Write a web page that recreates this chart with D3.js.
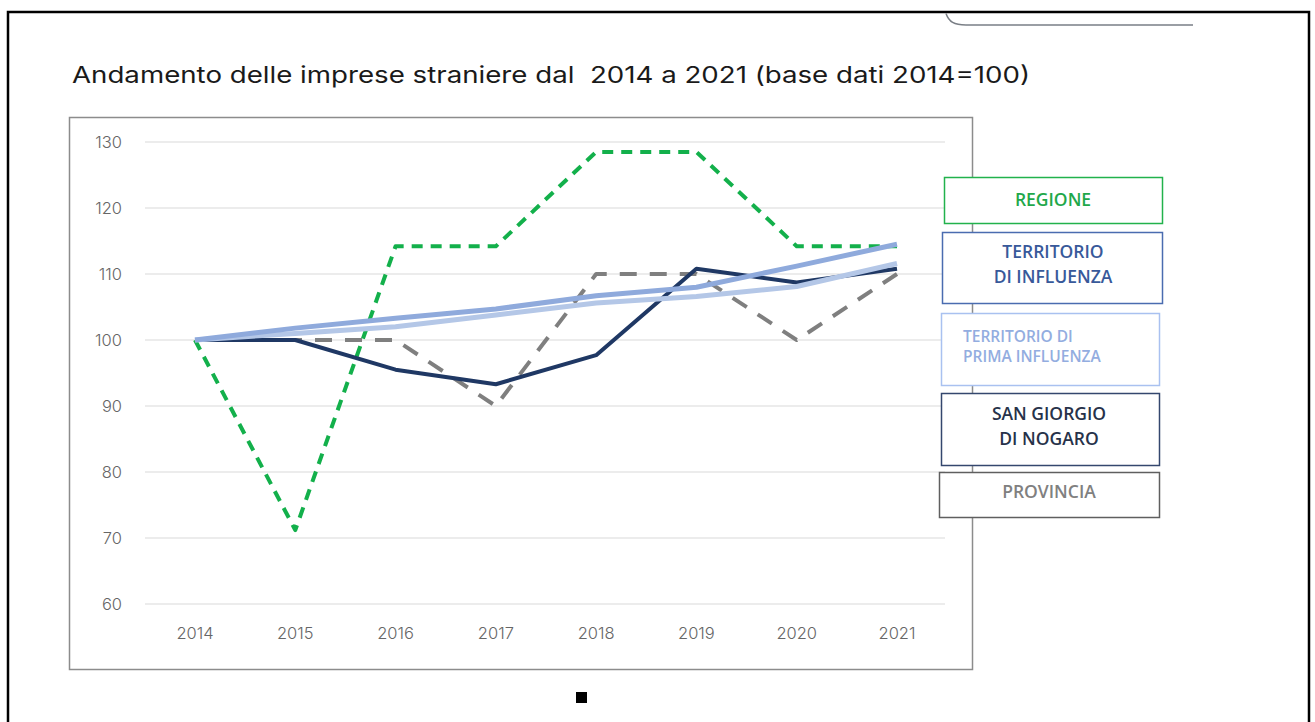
<!DOCTYPE html>
<meta charset="utf-8">
<title>Andamento delle imprese straniere</title>
<style>

body {
  margin: 0;
  background-color: white;
}

text {
  font-family: Inter, "Liberation Sans", sans-serif;
}

.grid line {
  stroke: #d9d9d9;
  stroke-width: 1.2px;
}

.tick-label {
  fill: #666;
  font-size: 16.5px;
  font-weight: 300;
}

.legend-label {
  font-family: "Open Sans", Inter, sans-serif;
  font-weight: 600;
}

.series {
  fill: none;
  stroke-linejoin: round;
}

</style>
<body>
<script src="https://cdn.jsdelivr.net/npm/d3@7"></script>
<script>

var years = [2014, 2015, 2016, 2017, 2018, 2019, 2020, 2021],
    yTicks = [60, 70, 80, 90, 100, 110, 120, 130];

var regione = [100, 71.2, 114.2, 114.2, 128.5, 128.5, 114.2, 114.2],
    provincia = [100, 100, 100, 90, 110, 110, 100, 110],
    sanGiorgio = [100, 100, 95.5, 93.3, 97.7, 110.8, 108.7, 110.8],
    primaInfluenza = [100, 101, 102, 103.8, 105.6, 106.6, 108.1, 111.6],
    influenza = [100, 101.8, 103.3, 104.7, 106.7, 108, 111.2, 114.5];

var seriesNames = ["REGIONE", "TERRITORIO\nDI INFLUENZA", "TERRITORIO DI\nPRIMA INFLUENZA", "SAN GIORGIO\nDI NOGARO", "PROVINCIA"];

var width = 1315,
    height = 722;

var svg = d3.select("body").append("svg")
    .attr("width", width)
    .attr("height", height);

var x = d3.scalePoint()
    .domain(years)
    .range([195, 897]);

var y = d3.scaleLinear()
    .domain([60, 130])
    .range([604, 142]);

// outer frame and decorations
svg.append("path")
    .attr("d", "M8,722V12H1309V722")
    .attr("fill", "none")
    .attr("stroke", "black")
    .attr("stroke-width", 2.5);

svg.append("path")
    .attr("d", "M946,13.5C949,22 954,25 966,25H1193")
    .attr("fill", "none")
    .attr("stroke", "#7a7f86")
    .attr("stroke-width", 1.5);

svg.append("rect")
    .attr("x", 576)
    .attr("y", 692)
    .attr("width", 11)
    .attr("height", 11)
    .attr("fill", "black");

svg.append("text")
    .attr("x", 72)
    .attr("y", 83)
    .attr("textLength", 958)
    .attr("lengthAdjust", "spacingAndGlyphs")
    .style("white-space", "pre")
    .style("font-size", "23px")
    .style("fill", "#1a1a1a")
    .text("Andamento delle imprese straniere dal  2014 a 2021 (base dati 2014=100)");

// plot area
svg.append("rect")
    .attr("x", 69.5)
    .attr("y", 117.5)
    .attr("width", 903)
    .attr("height", 552)
    .attr("fill", "none")
    .attr("stroke", "#8c8c8c")
    .attr("stroke-width", 1.5);

svg.append("g")
    .attr("class", "grid")
  .selectAll("line")
    .data(yTicks)
  .enter().append("line")
    .attr("x1", 145)
    .attr("x2", 945)
    .attr("y1", function(d) { return y(d); })
    .attr("y2", function(d) { return y(d); });

svg.append("g")
  .selectAll("text")
    .data(yTicks)
  .enter().append("text")
    .attr("class", "tick-label")
    .attr("x", 122)
    .attr("y", function(d) { return y(d); })
    .attr("dy", "0.35em")
    .attr("text-anchor", "end")
    .text(function(d) { return d; });

svg.append("g")
  .selectAll("text")
    .data(years)
  .enter().append("text")
    .attr("class", "tick-label")
    .attr("x", function(d) { return x(d); })
    .attr("y", 639)
    .attr("text-anchor", "middle")
    .text(function(d) { return d; });

var line = d3.line()
    .x(function(d, i) { return x(years[i]); })
    .y(function(d) { return y(d); });

var series = [
  {values: regione, color: "#13b04b", width: 4, dash: "11,8"},
  {values: provincia, color: "#7f7f7f", width: 4, dash: "17,13"},
  {values: sanGiorgio, color: "#1f3864", width: 4, dash: null},
  {values: primaInfluenza, color: "#b4c7e7", width: 5, dash: null},
  {values: influenza, color: "#8faadc", width: 5, dash: null}
];

svg.append("g")
  .selectAll("path")
    .data(series)
  .enter().append("path")
    .attr("class", "series")
    .attr("d", function(d) { return line(d.values); })
    .attr("stroke", function(d) { return d.color; })
    .attr("stroke-width", function(d) { return d.width; })
    .attr("stroke-dasharray", function(d) { return d.dash; });

// legend boxes
var legend = [
  {name: seriesNames[0], x: 944, y: 177, w: 218, h: 46, border: "#22b24c", fill: "#1fa84a", size: 17.5, anchor: "middle", tx: 1053, ty: [206]},
  {name: seriesNames[1], x: 942, y: 232, w: 220, h: 71, border: "#4a6cb0", fill: "#38599a", size: 17.5, anchor: "middle", tx: 1053, ty: [258, 283]},
  {name: seriesNames[2], x: 941, y: 313, w: 218, h: 72, border: "#a9c1f0", fill: "#93ade0", size: 15.5, anchor: "start", tx: 963, ty: [342, 362]},
  {name: seriesNames[3], x: 941, y: 393, w: 218, h: 72, border: "#34476e", fill: "#27324a", size: 17.5, anchor: "middle", tx: 1049, ty: [420, 445]},
  {name: seriesNames[4], x: 939, y: 472, w: 220, h: 45, border: "#5f5f5f", fill: "#808080", size: 17.5, anchor: "middle", tx: 1049, ty: [498]}
];

var box = svg.append("g")
  .selectAll("g")
    .data(legend)
  .enter().append("g");

box.append("rect")
    .attr("x", function(d) { return d.x + 0.5; })
    .attr("y", function(d) { return d.y + 0.5; })
    .attr("width", function(d) { return d.w; })
    .attr("height", function(d) { return d.h; })
    .attr("fill", "white")
    .attr("stroke", function(d) { return d.border; })
    .attr("stroke-width", 1.5);

box.each(function(d) {
  var g = d3.select(this);
  d.name.split("\n").forEach(function(t, i) {
    g.append("text")
        .attr("class", "legend-label")
        .attr("x", d.tx)
        .attr("y", d.ty[i])
        .attr("text-anchor", d.anchor)
        .style("font-size", d.size + "px")
        .style("fill", d.fill)
        .text(t);
  });
});

</script>
